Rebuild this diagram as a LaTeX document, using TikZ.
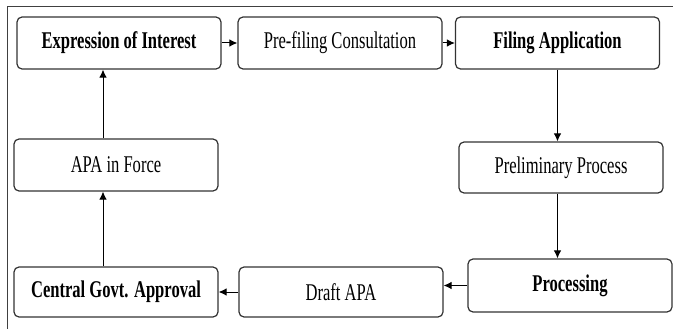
\documentclass[tikz,border=0pt]{standalone}
\usepackage{fontspec}
\newfontfamily\condfont[FakeStretch=0.69]{Liberation Serif}
\usetikzlibrary{arrows.meta}

\tikzset{
  stagebox/.style={draw=black!80, line width=1.2pt, rounded corners=5pt,
    minimum width=204pt, minimum height=52pt, inner sep=0pt,
    font=\condfont\fontsize{24}{26}\selectfont},
  keystage/.style={stagebox, font=\condfont\bfseries\fontsize{24}{26}\selectfont},
  flow/.style={line width=1pt, -{Latex[length=8pt,width=7.5pt]}}
}

\begin{document}
\begin{tikzpicture}[x=1pt,y=-1pt]
      \def\leftx{103}
      \useasboundingbox (0,0) rectangle (673,329);

      % frame
      \draw[black!75, line width=1pt] (7,329) -- (7,7) -- (673,7);

      % top row
      \node[keystage] (interest) at (119,43) {Expression of Interest};
      \node[stagebox] (consult) at (340,43) {Pre-filing Consultation};
      \node[keystage] (filing) at (557.5,43) {Filing Application};

      % right column
      \node[stagebox, minimum height=51pt] (prelim) at (561,167.5) {Preliminary\ Process};
      \node[keystage, minimum height=53pt] (processing) at (570,285.5) {Processing};

      % bottom row and left column
      \node[stagebox, minimum height=50pt] (draft) at (341,292) {Draft APA};
      \node[keystage, minimum height=50pt] (approval) at (116,292) {Central Govt. Approval};
      \node[stagebox] (inforce) at (116,165) {APA in Force};

      \draw[flow] (interest) -- (consult);
      \draw[flow] (consult) -- (filing);
      \draw[flow] (filing.south) -- (filing.south |- prelim.north);
      \draw[flow] (prelim.south -| filing.south) -- (filing.south |- processing.north);
      \draw[flow] (processing.west) -- (processing.west -| draft.east);
      \draw[flow] (draft) -- (approval);
      \draw[flow] (approval.north -| \leftx,0) -- (inforce.south -| \leftx,0);
      \draw[flow] (inforce.north -| \leftx,0) -- (interest.south -| \leftx,0);
    \end{tikzpicture}
\end{document}
